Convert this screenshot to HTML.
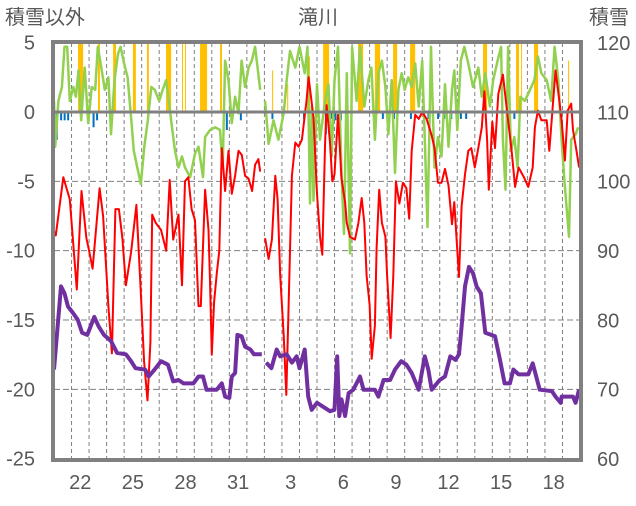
<!DOCTYPE html>
<html><head><meta charset="utf-8"><style>
body{margin:0;background:#fff;width:636px;height:501px;overflow:hidden;font-family:"Liberation Sans","Noto Sans CJK JP",sans-serif}
svg text{font-family:"Liberation Sans","Noto Sans CJK JP",sans-serif;fill:#595959}
</style></head><body>
<svg id="chart" width="636" height="501" viewBox="0 0 636 501" xmlns="http://www.w3.org/2000/svg">
<g id="grid"></g>
<g id="bars"></g>
<g id="lines"></g>
<g id="axes"></g>
<text x="5" y="24" font-size="20">積雪以外</text>
<text x="318" y="24" font-size="20" text-anchor="middle">滝川</text>
<text x="589" y="24" font-size="20">積雪</text>
</svg>
<script>
const leftTicks=[5,0,-5,-10,-15,-20,-25];
const rightTicks=[120,110,100,90,80,70,60];
const dayLabels=["22","25","28","31","3","6","9","12","15","18"];
const dayLabelPos=[1,4,7,10,13,16,19,22,25,28];
const redT=[0,0.1,0.53,0.9,1.3,1.57,1.85,2.0,2.2,2.6,2.8,3.1,3.3,3.5,3.7,3.9,4.1,4.4,4.7,4.95,5.14,5.33,5.5,5.6,5.8,6.1,6.4,6.6,6.8,7.1,7.3,7.47,7.66,7.85,8.04,8.24,8.37,8.62,8.81,8.9,9.0,9.13,9.28,9.43,9.57,9.76,9.95,10.14,10.33,10.52,10.71,10.9,11.1,11.3,11.47,11.66,11.76,null,12.04,12.24,12.43,12.62,12.75,12.9,13.1,13.25,13.38,13.57,13.76,13.95,14.14,14.4,14.52,14.8,15.0,15.17,15.3,15.46,15.55,15.74,15.87,16.0,16.2,16.4,16.6,16.7,16.88,17.17,17.36,17.55,17.7,17.83,18.0,18.12,18.3,18.4,18.55,18.7,18.9,19.0,19.2,19.35,19.5,19.7,19.9,20.1,20.26,20.4,20.6,20.8,21.0,21.25,21.54,21.7,21.9,22.1,22.3,22.5,22.7,22.83,22.97,23.1,23.25,23.44,23.63,23.8,24.0,24.2,24.4,24.55,24.7,24.8,25.0,25.15,25.34,25.6,26.1,26.3,26.5,26.8,27.05,27.3,27.43,27.6,27.8,28.1,28.25,28.4,28.6,28.8,28.95,29.14,29.3,29.5,29.6,29.8,29.95];
const redV=[-8.6,-8.9,-4.7,-6.3,-12.8,-5.7,-9.1,-10,-11.3,-5.5,-7.5,-14,-17.4,-7,-7,-9.1,-12.5,-10.1,-6.7,-13,-18,-20.8,-16.6,-7.4,-8,-8.5,-10,-4.9,-9.2,-7.4,-12.5,-5,-4.7,-7,-7.8,-14,-14,-5.6,-8.5,-12.2,-17.5,-13.7,-11.7,-10,-2.6,-5.7,-2.8,-5.9,-4.6,-2.8,-3.1,-4.6,-4.8,-5.7,-3.8,-3.4,-4.3,null,-9.1,-10.6,-9.2,-4.6,-6.3,-11.8,-16.1,-20.4,-14,-4.6,-2.2,-2.5,-2,0.8,2.5,-0.4,-5.9,-9,-10.3,-2.2,0.5,-2.2,-5,-4.5,-0.2,-4.8,-6.5,-8,-9,-9.2,-8,-6.2,-8,-11.8,-13.9,-17.8,-15.4,-9.8,-5.6,-8,-9,-11.8,-16.3,-11.8,-5,-6.6,-5.1,-5.5,-7.7,-2.8,-0.2,-0.5,0,-0.5,-1.7,-2.6,-5.1,-5.1,-4.1,-5.3,-8.1,-6.5,-9.3,-11.9,-6.8,-4.5,-2.8,-2.6,-4,-2.6,-1.1,1.5,-2,-5.6,-0.7,-2.6,1.3,2.7,-2.8,-5.4,-4,-4.7,-5.4,-4,-1.1,0.1,-0.6,-0.6,-2.8,-0.4,3,1,-0.6,-3.5,0.1,0.6,-1.3,-2.8,-4];
const greenT=[0,0.07,0.25,0.45,0.6,0.75,0.9,1.1,1.25,1.4,1.55,1.75,1.95,2.15,2.35,2.5,2.7,2.9,3.1,3.25,3.45,3.65,3.8,4.0,4.2,4.4,4.55,4.75,4.95,5.15,5.35,5.55,5.75,6.0,6.2,6.4,6.7,6.9,7.1,7.3,7.47,7.76,8.04,8.24,8.5,8.62,8.9,9.2,9.47,9.62,9.76,9.95,10.14,10.33,10.52,10.7,10.9,11.1,11.28,11.47,11.76,null,12.04,12.24,12.52,12.8,13.1,13.27,13.46,13.76,14.0,14.3,14.46,14.6,14.7,14.8,15.0,15.17,15.46,15.65,15.84,16.0,16.2,16.4,16.54,16.7,16.88,17.0,17.26,17.45,17.7,17.93,18.1,18.3,18.5,18.7,18.9,19.07,19.26,19.45,19.64,19.83,20.0,20.2,20.4,20.6,20.8,21.0,21.15,21.3,21.5,21.7,21.9,22.1,22.3,22.5,22.7,22.83,23.0,23.2,23.4,23.63,23.9,24.2,24.4,24.6,24.86,25.05,25.3,25.5,25.6,25.75,25.9,26.06,26.25,26.44,26.6,26.86,27.15,27.4,27.6,27.8,28.1,28.35,28.55,28.76,28.95,29.14,29.37,29.5,29.75,29.9];
const greenV=[0.8,-2.5,0.8,1.8,4.7,4.7,0.8,1.8,1.1,3,-0.6,3.2,-0.8,1.8,1.6,4.7,3.2,1.6,2.5,-1.6,2.3,4.2,4.7,3.5,2.5,-0.4,-2.8,-4,-5.2,-2.5,-0.6,1.8,1.6,0.8,1.6,2.3,-0.8,-2.8,-4,-3.2,-4,-4.7,-3,-2.5,-4.7,-1.8,-1.3,-1.1,-1.3,-4,3.7,2.3,-0.8,1.1,-0.1,3.7,1.8,3.2,3.7,4.7,1.6,null,0.8,-2.3,-0.6,-2,-0.1,2.3,4.4,3.2,4.7,2.8,4.7,-6.6,0.4,-6.4,2,-2,0.8,2,-3.2,2.3,4.7,-4.4,-8.8,2.8,-10.2,4.7,0.8,4.7,0.4,2.3,3.2,-2,2.8,3.7,1.8,-1.6,2.3,-4.4,1.6,2.8,1.6,2.5,1.8,3.5,0.4,3.7,-2,-8.3,4.7,-4,-1.8,-3.2,2,-2.5,1.6,3,-1.3,3.7,4.7,3.5,1.8,3.2,1.1,2.8,0.4,2.3,3.7,4.7,-2,-5.6,4.7,-2.8,-1.8,-4,1.1,0.8,1.6,2.3,4,2.8,2.3,0.8,4.7,2.3,-2,-5.4,-9,-2,-1.6,-1.1];
const snowT=[0,0.4,0.6,0.8,1.1,1.35,1.6,1.9,2.3,2.55,2.85,3.25,3.6,4.1,4.4,4.65,5.2,5.4,5.8,6.1,6.5,6.8,7.1,7.4,7.95,8.24,8.5,8.7,9.28,9.57,9.76,10.0,10.14,10.33,10.46,10.7,10.9,11.2,11.4,11.85,null,12.1,12.4,12.7,12.9,13.27,13.57,13.84,14.0,14.3,14.5,14.7,15.0,15.74,16.0,16.15,16.27,16.4,16.6,16.8,17.07,17.45,17.65,18.3,18.5,18.8,19.17,19.45,19.8,20.1,20.4,20.8,21.15,21.35,21.54,22.0,22.3,22.6,22.9,23.1,23.25,23.44,23.67,23.9,24.1,24.35,24.6,25.15,25.44,25.7,26.0,26.2,26.5,27.05,27.3,27.5,27.7,28.4,28.6,28.9,28.95,29.6,29.75,29.95];
const snowV=[72.9,84.9,83.9,82,81,80.1,78.2,77.9,80.5,79.1,77.9,77,75.3,75.1,74.1,73.1,72.9,71.9,73.1,74.1,73.6,71.2,71.4,70.9,70.9,71.9,71.9,70,70,70.9,69,68.8,71.9,72.4,77.9,77.7,76.2,75.8,75.1,75.1,null,73.9,73.1,75.8,74.8,75.1,73.9,74.8,73.1,75.8,69,67.1,68.1,66.9,67.1,74.8,66.2,68.6,66.2,69.5,70,71.9,70,70,69,71.4,71.4,72.9,74.1,73.6,72.4,70,74.8,72.9,70,71.4,71.9,74.8,74.3,75.1,79.1,84.9,87.7,86.8,84.9,83.9,78.2,77.7,74.3,70.9,70.9,72.9,72.2,72.2,73.8,71.9,70,69.8,69,68.1,69,69,68.1,70];
const precipT=[1.37,2.51,3.37,4.5,5.3,6.39,7.3,7.47,8.33,9.47,12.44,13.3,14.43,15.35,17.34,18.3,19.34,20.31,24.47,26.35,26.64,27.38,29.32];
const precipDur=[0.29,0.11,0.17,0.17,0.11,0.29,0.05,0.05,0.4,0.11,0.06,0.06,0.17,0.34,0.29,0.3,0.23,0.29,0.23,0.17,0.04,0.23,0.06];
const precipV=[6,6,6,6,6,6,6,6,6,6,3,2,4,6,6,6,6,6,6,6,6,6,3.7];
const meltT=[0.1,0.35,0.55,0.75,2.2,2.4,9.8,10.6,12.4,14.2,15.45,15.75,16.0,16.3,18.7,19.34,20.3,21.3,21.85,22.2,22.6,22.9,23.15,23.45,26.2];
const meltV=[-2,-0.6,-0.6,-0.6,-1.1,-0.6,-1.3,-0.6,-0.5,-0.5,-1.6,-0.5,-0.6,-0.6,-0.5,-0.5,-0.5,-0.5,-0.5,-0.5,-0.5,-0.5,-0.5,-0.5,-0.5];

const X0=54,X1=580,YT=43,YB=459,NDAYS=30;
const xs=t=>X0+t*(X1-X0)/NDAYS;
const yl=v=>112-v*(YB-YT)/30;
const yr=v=>YT+(120-v)*(YB-YT)/60;
const NS="http://www.w3.org/2000/svg";
function mk(tag,parent,attrs){const e=document.createElementNS(NS,tag);for(const k in attrs)e.setAttribute(k,attrs[k]);parent.appendChild(e);return e;}
const grid=document.getElementById('grid'),bars=document.getElementById('bars'),lines=document.getElementById('lines'),axes=document.getElementById('axes');
for(let d=1;d<NDAYS;d++){const l=mk('line',grid,{x1:xs(d),x2:xs(d),y1:YT,y2:YB,stroke:'#808080','stroke-width':1,'stroke-dasharray':'4,3'});

}
[-5,-10,-15,-20].forEach(v=>{const l=mk('line',grid,{x1:X0,x2:X1,y1:yl(v),y2:yl(v),stroke:'#808080','stroke-width':1,'stroke-dasharray':'6,3'});

});
precipT.forEach((t,i)=>{const v=Math.min(precipV[i],5);const r=mk('rect',bars,{x:xs(t),width:Math.max(1,xs(t+precipDur[i])-xs(t)),y:yl(v),height:yl(0)-yl(v),fill:'#FFC000'});

});
meltT.forEach((t,i)=>{const r=mk('rect',bars,{x:xs(t),width:2,y:yl(0),height:yl(meltV[i])-yl(0),fill:'#0070C0'});

});
const zl=mk('line',axes,{x1:X0,x2:X1,y1:yl(0),y2:yl(0),stroke:'#808080','stroke-width':3});


function series(T,V,yf,color,w,name){let d='',pen=false;T.forEach((t,i)=>{if(t===null||V[i]===null){pen=false;return;}let y=yf(V[i]);y=Math.max(YT,Math.min(YB,y));d+=(pen?'L':'M')+xs(t).toFixed(1)+','+y.toFixed(1);pen=true;});
const p=mk('path',lines,{d:d,fill:'none',stroke:color,'stroke-width':w,'stroke-linejoin':'round'});

}
series(greenT,greenV,yl,'#92D050',2.5,'green-series-line');
series(redT,redV,yl,'#FF0000',2,'temperature-line');
series(snowT,snowV,yr,'#7030A0',4,'snow-depth-line');
const fr=mk('rect',axes,{x:X0-1,y:YT-1,width:X1-X0+2,height:YB-YT+2,fill:'none',stroke:'#808080','stroke-width':4});


leftTicks.forEach(v=>{const t=mk('text',axes,{x:35,y:yl(v)+7,'font-size':20,'text-anchor':'end'});t.textContent=v;

});
rightTicks.forEach(v=>{const t=mk('text',axes,{x:597,y:yr(v)+7,'font-size':20});t.textContent=v;

});
dayLabels.forEach((s,i)=>{const t=mk('text',axes,{x:xs(dayLabelPos[i]+0.5),y:489,'font-size':20,'text-anchor':'middle'});t.textContent=s;

});
</script>
</body></html>
